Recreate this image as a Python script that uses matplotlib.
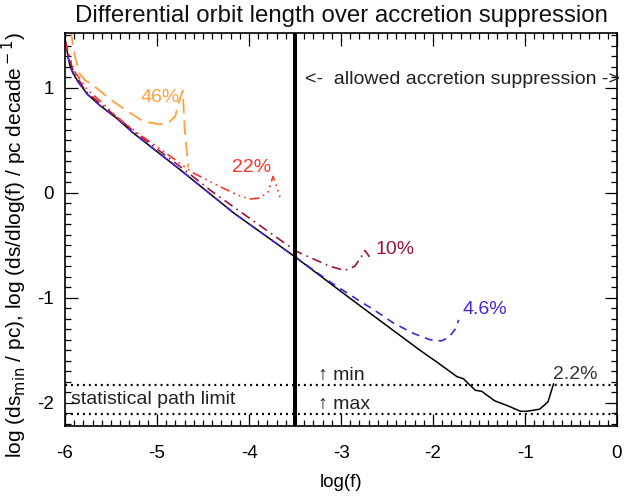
import matplotlib
matplotlib.use("Agg")
import matplotlib.pyplot as plt
from matplotlib.ticker import MultipleLocator

plt.rcParams['font.family'] = ['Liberation Sans', 'DejaVu Sans']
plt.rcParams['lines.scale_dashes'] = False

# ---- data ----
x_22 = [-6.0, -5.95, -5.89, -5.76, -5.62, -5.44, -5.26, -4.75, -4.17, -3.5, -3.0, -2.71,
        -2.14, -2.01, -1.96, -1.74, -1.67, -1.54, -1.47, -1.33, -1.18, -1.05, -0.98,
        -0.84, -0.75, -0.69]
y_22 = [1.46, 1.22, 1.10, 0.94, 0.83, 0.71, 0.57, 0.22, -0.19, -0.61, -0.94, -1.13,
        -1.50, -1.58, -1.61, -1.75, -1.77, -1.88, -1.89, -1.98, -2.03, -2.08, -2.08,
        -2.06, -1.99, -1.82]

x_46 = [-6.0, -5.95, -5.89, -5.76, -5.62, -5.44, -5.26, -4.75, -4.17, -3.5, -3.1, -2.79,
        -2.65, -2.43, -2.21, -2.03, -1.91, -1.83, -1.76, -1.72]
y_46 = [1.45, 1.21, 1.09, 0.94, 0.83, 0.71, 0.57, 0.22, -0.19, -0.61, -0.86, -1.035,
        -1.11, -1.24, -1.34, -1.40, -1.41, -1.38, -1.30, -1.21]

x_10 = [-6.0, -5.92, -5.78, -5.62, -5.26, -4.75, -4.4, -4.03, -3.66, -3.48, -3.3, -3.12,
        -2.96, -2.85, -2.78, -2.74, -2.69]
y_10 = [1.45, 1.18, 0.97, 0.85, 0.59, 0.25, 0.01, -0.22, -0.45, -0.56, -0.63, -0.70,
        -0.74, -0.70, -0.61, -0.55, -0.61]

x_r22 = [-6.0, -5.9, -5.76, -5.6, -5.42, -5.2, -4.97, -4.61, -4.32, -4.13, -3.99, -3.88,
         -3.79, -3.74, -3.70, -3.66]
y_r22 = [1.44, 1.16, 0.98, 0.86, 0.71, 0.56, 0.42, 0.19, 0.06, -0.02, -0.06, -0.05,
         0.01, 0.155, 0.06, -0.05]

x_o46 = [-5.95, -5.93, -5.89, -5.84, -5.78, -5.69, -5.51, -5.33, -5.15, -4.97, -4.87,
         -4.80, -4.77, -4.72, -4.70, -4.66]
y_o46 = [1.75, 1.50, 1.29, 1.13, 1.07, 1.02, 0.89, 0.78, 0.68, 0.65, 0.67,
         0.73, 0.84, 0.97, 0.62, 0.24]

x_ticks = [-6, -5, -4, -3, -2, -1, 0]
x_ticklabels = ['-6', '-5', '-4', '-3', '-2', '-1', '0']
y_ticks = [-2, -1, 0, 1]
y_ticklabels = ['-2', '-1', '0', '1']

limit_min = -1.83
limit_max = -2.11
f_allowed = -3.5

# ---- figure ----
fig = plt.figure(figsize=(6.24, 4.97), dpi=100)
ax = fig.add_axes([65/624, 71/497, 552/624, 393/497])

c_black = '#000000'
c_blue = '#4a22d8'
c_dred = '#9a1538'
c_red = '#ff3526'
c_orange = '#ffa040'

ax.plot(x_22, y_22, color=c_black, lw=1.1, solid_joinstyle='round')
ax.plot(x_46, y_46, color=c_blue, lw=1.2, dashes=(5.8, 4.3))
ax.plot(x_10, y_10, color=c_dred, lw=1.2, dashes=(7, 3.5, 1.2, 3.5))
ax.plot(x_r22, y_r22, color=c_red, lw=1.2, dashes=(7, 3, 1.2, 3, 1.2, 3, 1.2, 3))
ax.plot(x_o46, y_o46, color=c_orange, lw=1.3, dashes=(10.5, 5))

ax.axvline(f_allowed, color='black', lw=2.9)
ax.axhline(limit_min, color='black', lw=1.6, dashes=(1.4, 2.9))
ax.axhline(limit_max, color='black', lw=1.6, dashes=(1.4, 2.9))

ax.set_xlim(-6, 0)
ax.set_ylim(-2.22, 1.52)

ax.set_xticks(x_ticks)
ax.set_xticklabels(x_ticklabels)
ax.set_yticks(y_ticks)
ax.set_yticklabels(y_ticklabels)
ax.xaxis.set_minor_locator(MultipleLocator(0.1))
ax.yaxis.set_minor_locator(MultipleLocator(0.1))
ax.tick_params(which='both', direction='in', top=True, right=True, width=0.9)
ax.tick_params(which='major', length=9, labelsize=13.5)
ax.tick_params(axis='x', which='major', pad=14)
ax.tick_params(axis='y', which='major', pad=8)
ax.tick_params(which='minor', length=4)
for s in ax.spines.values():
    s.set_linewidth(1.2)

ax.set_title('Differential orbit length over accretion suppression', fontsize=17.3,
             pad=8, color='#111111')
ax.set_xlabel('log(f)', fontsize=13.5, labelpad=8)
ax.set_ylabel(r'log (ds$_{\rm min}$ / pc), log (ds/dlog(f) / pc decade$^{\rm -1}$)',
              fontsize=15)
ax.yaxis.set_label_coords(-0.066, 0.46)

tk = dict(fontsize=14, va='center', ha='left')
ax.text(-5.18, 0.91, '46%', color=c_orange, **tk)
ax.text(-4.18, 0.24, '22%', color=c_red, **tk)
ax.text(-2.62, -0.54, '10%', color=c_dred, **tk)
ax.text(-1.68, -1.11, '4.6%', color=c_blue, **tk)
ax.text(-0.70, -1.73, '2.2%', color='#333333', **tk)
ax.text(-3.39, 1.08, '<-  allowed accretion suppression ->', color='#222222',
        clip_on=False, **tk)
ax.text(-5.93, -1.97, 'statistical path limit', color='#222222', **tk)
ax.text(-3.25, -1.74, '↑ min', color='#222222', **tk)
ax.text(-3.25, -2.01, '↑ max', color='#222222', **tk)

fig.savefig('out.png', dpi=100)
